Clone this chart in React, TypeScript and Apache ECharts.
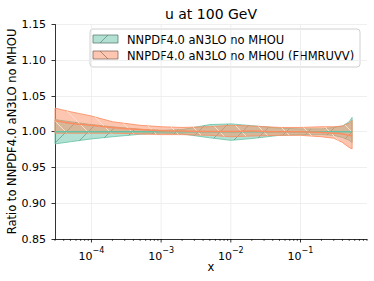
import React, { useEffect, useRef } from "react";
import * as echarts from "echarts";

// ---- data ----
const xValues = [3e-5, 5e-5, 1e-4, 2e-4, 5e-4, 1e-3, 2e-3, 5e-3, 1e-2, 2e-2, 5e-2, 0.1, 0.2, 0.3, 0.4, 0.5, 0.55];
const greenLow = [0.983, 0.986, 0.99, 0.993, 0.9965, 0.998, 0.997, 0.9915, 0.988, 0.9905, 0.995, 0.996, 0.996, 0.995, 0.992, 0.988, 0.985];
const greenMid = [1, 1, 1, 1, 1, 1, 1, 1, 1, 1, 1, 1, 1, 1, 1, 1, 1];
const greenHigh = [1.017, 1.014, 1.01, 1.007, 1.0035, 1.002, 1.003, 1.01, 1.011, 1.0085, 1.005, 1.004, 1.004, 1.006, 1.008, 1.014, 1.02];
const orangeLow = [0.998, 0.998, 0.998, 0.998, 0.997, 0.996, 0.996, 0.995, 0.993, 0.994, 0.995, 0.995, 0.993, 0.991, 0.985, 0.978, 0.976];
const orangeMid = [1.0155, 1.012, 1.009, 1.006, 1.003, 1.0015, 1.001, 1.0005, 1.0005, 1.001, 1.0, 1.0, 0.999, 0.998, 0.997, 0.995, 0.994];
const orangeHigh = [1.033, 1.028, 1.022, 1.014, 1.009, 1.007, 1.006, 1.007, 1.009, 1.008, 1.006, 1.006, 1.007, 1.007, 1.008, 1.012, 1.016];
const yTicks = [0.85, 0.9, 0.95, 1.0, 1.05, 1.1, 1.15];
const xMajorExponents = [-4, -3, -2, -1];
const seriesNames = ["NNPDF4.0 aN3LO no MHOU", "NNPDF4.0 aN3LO no MHOU (FHMRUVV)"];

const X_MIN = 3e-5;
const X_MAX = 0.9;
const FONT = "DejaVu Sans";
const GREEN = "#66c2a5";
const ORANGE = "#fc8d62";

function makeHatch(dir: "/" | "\\", color: string) {
  const s = 22;
  const c = document.createElement("canvas");
  c.width = s;
  c.height = s;
  const g = c.getContext("2d")!;
  g.strokeStyle = color;
  g.lineWidth = 1;
  for (let k = -1; k <= 1; k++) {
    g.beginPath();
    if (dir === "/") {
      g.moveTo(k * s, s);
      g.lineTo(k * s + s, 0);
    } else {
      g.moveTo(k * s, 0);
      g.lineTo(k * s + s, s);
    }
    g.stroke();
  }
  return { image: c, repeat: "repeat", imageWidth: s, imageHeight: s };
}

function bandSeries(low: number[], high: number[], fill: string, stroke: string, hatch: any) {
  return {
    type: "custom",
    silent: true,
    data: xValues.map((x, i) => [x, low[i], high[i]]),
    encode: { x: 0, y: [1, 2] },
    renderItem: (params: any, api: any) => {
      if (params.dataIndex !== 0) return null;
      const up = xValues.map((x, i) => api.coord([x, high[i]]));
      const dn = xValues.map((x, i) => api.coord([x, low[i]])).reverse();
      const pts = up.concat(dn);
      return {
        type: "group",
        children: [
          { type: "polygon", shape: { points: pts }, style: { fill, stroke, lineWidth: 1 } },
          { type: "polygon", shape: { points: pts }, style: { fill: hatch, stroke: "none" } },
        ],
      };
    },
  };
}

export default function App() {
  const ref = useRef<HTMLDivElement>(null);
  useEffect(() => {
    const chart = echarts.init(ref.current!, null, { renderer: "svg" });
    const greenHatch = makeHatch("/", "rgba(70,130,110,0.55)");
    const orangeHatch = makeHatch("\\", "rgba(255,225,210,0.9)");

    const decor = {
      type: "custom",
      silent: true,
      data: [[1e-3, 1]],
      renderItem: (params: any, api: any) => {
        if (params.dataIndex !== 0) return null;
        const yb = api.coord([1e-3, 0.85])[1];
        const yt = api.coord([1e-3, 1.15])[1];
        const children: any[] = [];
        xMajorExponents.forEach((e) => {
          const px = api.coord([Math.pow(10, e), 1])[0];
          children.push({ type: "line", shape: { x1: px, y1: yt, x2: px, y2: yb }, style: { stroke: "#ebebeb", lineWidth: 0.8 } });
          children.push({ type: "line", shape: { x1: px, y1: yb, x2: px, y2: yb + 3.5 }, style: { stroke: "#000", lineWidth: 0.8 } });
        });
        for (let e = -5; e <= 0; e++) {
          for (let k = 2; k <= 9; k++) {
            const v = k * Math.pow(10, e);
            if (v < X_MIN || v > X_MAX) continue;
            const px = api.coord([v, 1])[0];
            children.push({ type: "line", shape: { x1: px, y1: yb, x2: px, y2: yb + 2 }, style: { stroke: "#000", lineWidth: 0.6 } });
          }
        }
        return { type: "group", children };
      },
    };

    const lineSeries = (name: string, ys: number[], color: string) => ({
      type: "line",
      name,
      data: xValues.map((x, i) => [x, ys[i]]),
      symbol: "none",
      smooth: 0.3,
      lineStyle: { color, width: 1.5 },
      silent: true,
    });

    const legendX = 90;
    const legendY = 29;
    const legend = [
      { type: "rect", shape: { x: legendX, y: legendY, width: 270, height: 38, r: 3 }, style: { fill: "rgba(255,255,255,0.8)", stroke: "#d0d0d0", lineWidth: 1 } },
      { type: "rect", shape: { x: 93, y: 35, width: 25, height: 8 }, style: { fill: "rgba(102,194,165,0.5)", stroke: "rgba(90,120,110,0.75)", lineWidth: 1 } },
      { type: "line", shape: { x1: 100, y1: 43, x2: 108, y2: 35 }, style: { stroke: "rgba(70,110,95,0.7)", lineWidth: 0.8 } },
      { type: "rect", shape: { x: 93, y: 51, width: 25, height: 8 }, style: { fill: "rgba(252,141,98,0.5)", stroke: "rgba(130,100,90,0.75)", lineWidth: 1 } },
      { type: "line", shape: { x1: 100, y1: 51, x2: 108, y2: 59 }, style: { stroke: "rgba(110,80,70,0.7)", lineWidth: 0.8 } },
      { type: "text", x: 127, y: 39.5, style: { text: seriesNames[0], fontSize: 11.5, fontFamily: FONT, fill: "#000", verticalAlign: "middle" } },
      { type: "text", x: 127, y: 55.5, style: { text: seriesNames[1], fontSize: 11.5, fontFamily: FONT, fill: "#000", verticalAlign: "middle" } },
    ];

    chart.setOption({
      animation: false,
      grid: { left: 55, right: 7, top: 24.5, bottom: 42 },
      xAxis: {
        type: "log",
        logBase: 10,
        min: X_MIN,
        max: X_MAX,
        axisLine: { show: true, lineStyle: { color: "#000", width: 0.8 } },
        axisTick: { show: false },
        splitLine: { show: false },
        minorTick: { show: false },
        axisLabel: {
          margin: 7,
          showMinLabel: false,
          showMaxLabel: false,
          formatter: (v: number) => {
            const e = Math.log10(v);
            if (Math.abs(e - Math.round(e)) > 1e-6) return "";
            return "{b|10}{s|\u2212" + Math.abs(Math.round(e)) + "}";
          },
          rich: {
            b: { fontSize: 11, fontFamily: FONT, color: "#000", lineHeight: 16, verticalAlign: "bottom" },
            s: { fontSize: 8, fontFamily: FONT, color: "#000", lineHeight: 16, verticalAlign: "top" },
          },
        },
      },
      yAxis: {
        type: "value",
        min: 0.85,
        max: 1.15,
        interval: 0.05,
        axisLine: { show: true, lineStyle: { color: "#000", width: 0.8 } },
        axisTick: { show: true, length: 3.5, lineStyle: { color: "#000", width: 0.8 } },
        splitLine: { show: true, lineStyle: { color: "#ebebeb", width: 0.8 } },
        axisLabel: { margin: 9, fontSize: 11, fontFamily: FONT, color: "#000", formatter: (v: number) => v.toFixed(2) },
      },
      series: [
        decor,
        bandSeries(greenLow, greenHigh, "rgba(102,194,165,0.5)", "rgba(102,194,165,0.8)", greenHatch),
        lineSeries(seriesNames[0], greenMid, GREEN),
        bandSeries(orangeLow, orangeHigh, "rgba(252,141,98,0.5)", "rgba(252,141,98,0.85)", orangeHatch),
        lineSeries(seriesNames[1], orangeMid, ORANGE),
      ],
      graphic: [
        { type: "text", x: 211, y: 13.5, style: { text: "u at 100 GeV", fontSize: 14, fontFamily: FONT, fill: "#000", align: "center", verticalAlign: "middle" } },
        { type: "text", x: 211, y: 267, style: { text: "x", fontSize: 11.5, fontFamily: FONT, fill: "#000", align: "center", verticalAlign: "middle" } },
        { type: "text", x: 12, y: 131.5, rotation: Math.PI / 2, style: { text: "Ratio to NNPDF4.0 aN3LO no MHOU", fontSize: 11.5, fontFamily: FONT, fill: "#000", align: "center", verticalAlign: "middle" } },
        ...legend,
      ],
    });
    return () => chart.dispose();
  }, []);
  return <div ref={ref} style={{ position: "absolute", left: 0, top: 0, width: 374, height: 281 }} />;
}
